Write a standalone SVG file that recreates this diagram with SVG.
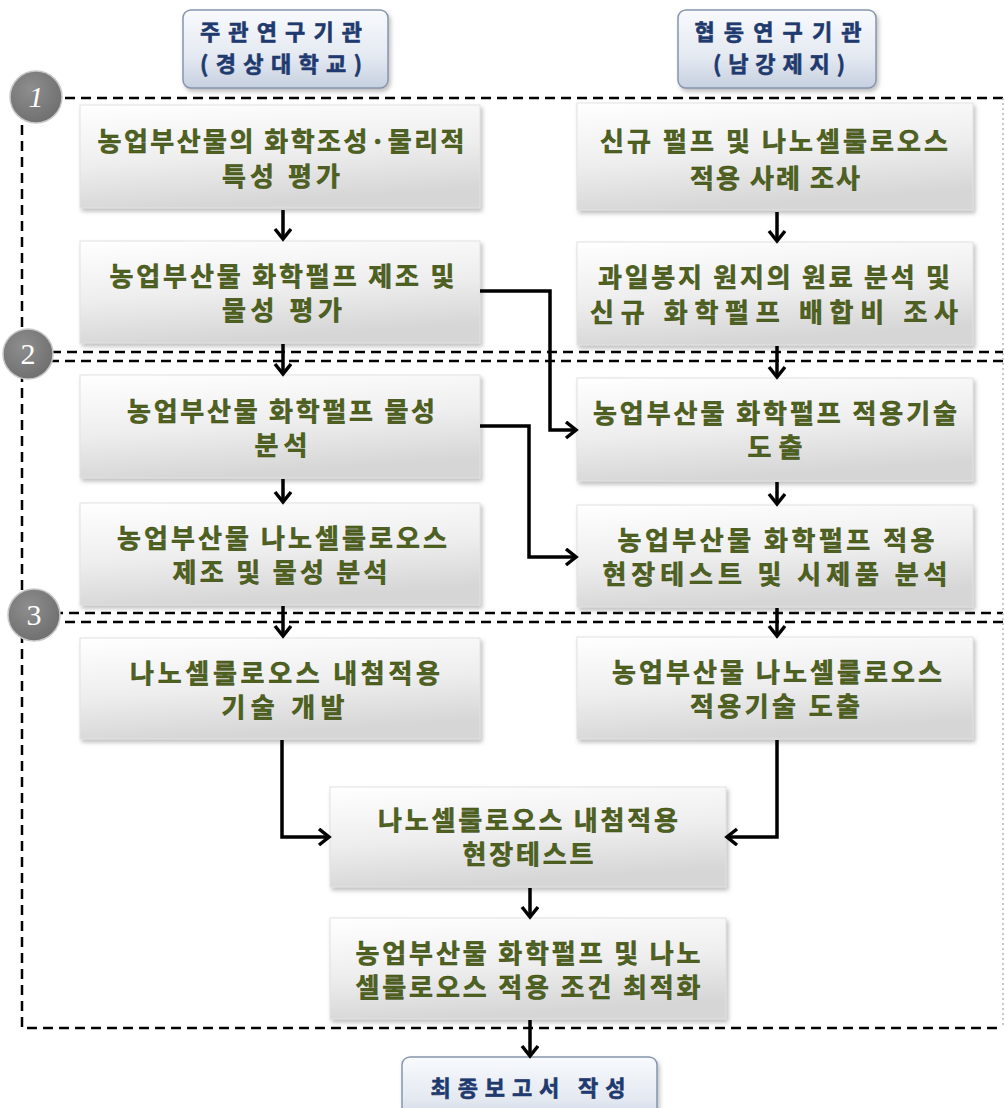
<svg xmlns="http://www.w3.org/2000/svg" width="1005" height="1108" viewBox="0 0 1005 1108">
<defs>
<linearGradient id="gBox" x1="0" y1="0" x2="0.25" y2="1">
<stop offset="0" stop-color="#ffffff"/>
<stop offset="0.55" stop-color="#eeeeee"/>
<stop offset="1" stop-color="#d6d6d6"/>
</linearGradient>
<linearGradient id="gHead" x1="0" y1="0" x2="0" y2="1">
<stop offset="0" stop-color="#f8fafd"/>
<stop offset="0.6" stop-color="#e4e9f1"/>
<stop offset="1" stop-color="#c6d0e0"/>
</linearGradient>
<radialGradient id="gCirc" cx="0.4" cy="0.35" r="0.7">
<stop offset="0" stop-color="#8e8e8e"/>
<stop offset="1" stop-color="#6e6e6e"/>
</radialGradient>
<filter id="shadow" x="-5%" y="-10%" width="112%" height="130%">
<feDropShadow dx="2" dy="3" stdDeviation="2" flood-color="#8a8a8a" flood-opacity="0.55"/>
</filter>
<marker id="arr" markerUnits="userSpaceOnUse" markerWidth="16" markerHeight="20" refX="12" refY="9" orient="auto">
<path d="M2,1 L12,9 L2,17" fill="none" stroke="#000" stroke-width="3.5" stroke-linejoin="miter"/>
</marker>
</defs>
<style>
.box{fill:url(#gBox);stroke:#e2e2e2;stroke-width:1;filter:url(#shadow)}
.head{fill:url(#gHead);stroke:#8796ad;stroke-width:1.5;filter:url(#shadow)}
.t{font-family:"Noto Sans CJK KR","Noto Sans CJK SC",sans-serif;font-weight:bold;font-size:26px;fill:#4f6220;text-anchor:middle;stroke:#38480f;stroke-width:0.5}
.ht{font-family:"Noto Sans CJK KR","Noto Sans CJK SC",sans-serif;font-weight:bold;font-size:22px;fill:#1f3a6e;text-anchor:middle;stroke:#1f3a6e;stroke-width:0.6}
.sec{fill:none;stroke:#000;stroke-width:2.5;stroke-dasharray:10 6}
.edge{fill:none;stroke:#b8b8b8;stroke-width:1.5;stroke-dasharray:2 3}
.circ{fill:url(#gCirc);stroke:#c8c8c8;stroke-width:1.5}
.num{font-family:"Liberation Serif",serif;font-size:30px;fill:#ffffff;text-anchor:middle}
.c{fill:none;stroke:#000;stroke-width:3.5;marker-end:url(#arr)}
</style>
<rect width="1005" height="1108" fill="#ffffff"/>

<g id="sections">
<path class="sec" d="M1003,98 H22 V352 H1003"/>
<path class="sec" d="M1003,361 H22 V613 H1003"/>
<path class="sec" d="M1003,622 H22 V1028 H1003"/>
<path class="edge" d="M1003,98 V1028"/>
</g>

<g id="badge1"><circle class="circ" cx="36" cy="97" r="26"/><text class="num" x="36" y="107" font-style="italic">1</text></g>
<g id="badge2"><circle class="circ" cx="28" cy="354" r="25"/><text class="num" x="28" y="364">2</text></g>
<g id="badge3"><circle class="circ" cx="34" cy="615" r="26"/><text class="num" x="34" y="625">3</text></g>

<g id="head-left"><rect class="head" x="183" y="10" width="205" height="78" rx="8"/>
<text class="ht" x="281" y="40" textLength="162" lengthAdjust="spacing">주관연구기관</text>
<text class="ht" x="281" y="72" textLength="162" lengthAdjust="spacing">(경상대학교)</text></g>
<g id="head-right"><rect class="head" x="678" y="10" width="198" height="78" rx="8"/>
<text class="ht" x="778" y="40" textLength="167" lengthAdjust="spacing">협동연구기관</text>
<text class="ht" x="779" y="72" textLength="132" lengthAdjust="spacing">(남강제지)</text></g>

<g id="L1"><rect class="box" x="80" y="105" width="400" height="103"/>
<text class="t" x="281" y="151" textLength="367" lengthAdjust="spacing">농업부산물의 화학조성·물리적</text>
<text class="t" x="281" y="186" textLength="118" lengthAdjust="spacing">특성 평가</text></g>
<g id="R1"><rect class="box" x="577" y="103" width="396" height="107"/>
<text class="t" x="774" y="151" textLength="348" lengthAdjust="spacing">신규 펄프 및 나노셀룰로오스</text>
<text class="t" x="775" y="188" textLength="170" lengthAdjust="spacing">적용 사례 조사</text></g>

<g id="L2"><rect class="box" x="80" y="241" width="400" height="102"/>
<text class="t" x="282" y="286" textLength="345" lengthAdjust="spacing">농업부산물 화학펄프 제조 및</text>
<text class="t" x="282" y="320" textLength="120" lengthAdjust="spacing">물성 평가</text></g>
<g id="R2"><rect class="box" x="577" y="242" width="396" height="103"/>
<text class="t" x="774" y="287" textLength="352" lengthAdjust="spacing">과일봉지 원지의 원료 분석 및</text>
<text class="t" x="774" y="322" textLength="368" lengthAdjust="spacing">신규 화학펄프 배합비 조사</text></g>

<g id="L3"><rect class="box" x="80" y="375" width="400" height="103"/>
<text class="t" x="281" y="421" textLength="308" lengthAdjust="spacing">농업부산물 화학펄프 물성</text>
<text class="t" x="281" y="455" textLength="53" lengthAdjust="spacing">분석</text></g>
<g id="R3"><rect class="box" x="577" y="378" width="396" height="103"/>
<text class="t" x="775" y="423" textLength="364" lengthAdjust="spacing">농업부산물 화학펄프 적용기술</text>
<text class="t" x="775" y="457" textLength="55" lengthAdjust="spacing">도출</text></g>

<g id="L4"><rect class="box" x="80" y="503" width="400" height="102"/>
<text class="t" x="282" y="548" textLength="330" lengthAdjust="spacing">농업부산물 나노셀룰로오스</text>
<text class="t" x="280" y="582" textLength="215" lengthAdjust="spacing">제조 및 물성 분석</text></g>
<g id="R4"><rect class="box" x="577" y="505" width="396" height="102"/>
<text class="t" x="776" y="550" textLength="317" lengthAdjust="spacing">농업부산물 화학펄프 적용</text>
<text class="t" x="775" y="584" textLength="345" lengthAdjust="spacing">현장테스트 및 시제품 분석</text></g>

<g id="L5"><rect class="box" x="80" y="638" width="400" height="101"/>
<text class="t" x="285" y="683" textLength="310" lengthAdjust="spacing">나노셀룰로오스 내첨적용</text>
<text class="t" x="283" y="717" textLength="123" lengthAdjust="spacing">기술 개발</text></g>
<g id="R5"><rect class="box" x="577" y="637" width="396" height="102"/>
<text class="t" x="777" y="682" textLength="330" lengthAdjust="spacing">농업부산물 나노셀룰로오스</text>
<text class="t" x="775" y="716" textLength="170" lengthAdjust="spacing">적용기술 도출</text></g>

<g id="C6"><rect class="box" x="330" y="787" width="396" height="100"/>
<text class="t" x="528" y="830" textLength="300" lengthAdjust="spacing">나노셀룰로오스 내첨적용</text>
<text class="t" x="528" y="864" textLength="131" lengthAdjust="spacing">현장테스트</text></g>
<g id="C7"><rect class="box" x="330" y="918" width="396" height="101"/>
<text class="t" x="528" y="963" textLength="345" lengthAdjust="spacing">농업부산물 화학펄프 및 나노</text>
<text class="t" x="528" y="997" textLength="345" lengthAdjust="spacing">셀룰로오스 적용 조건 최적화</text></g>

<g id="final"><rect class="head" x="402" y="1057" width="255" height="70" rx="8"/>
<text class="ht" x="528" y="1096" textLength="195" lengthAdjust="spacing">최종보고서 작성</text></g>

<g id="connectors">
<path class="c" d="M283,210 V239"/>
<path class="c" d="M777,212 V241"/>
<path class="c" d="M283,344 V374"/>
<path class="c" d="M777,346 V377"/>
<path class="c" d="M283,479 V502"/>
<path class="c" d="M777,482 V504"/>
<path class="c" d="M283,606 V636"/>
<path class="c" d="M777,608 V636"/>
<path class="c" d="M480,291 H550 V430 H576"/>
<path class="c" d="M480,426 H529 V557 H576"/>
<path class="c" d="M282,740 V837 H329"/>
<path class="c" d="M777,740 V837 H727"/>
<path class="c" d="M530,888 V917"/>
<path class="c" d="M530,1020 V1056"/>
</g>
</svg>
